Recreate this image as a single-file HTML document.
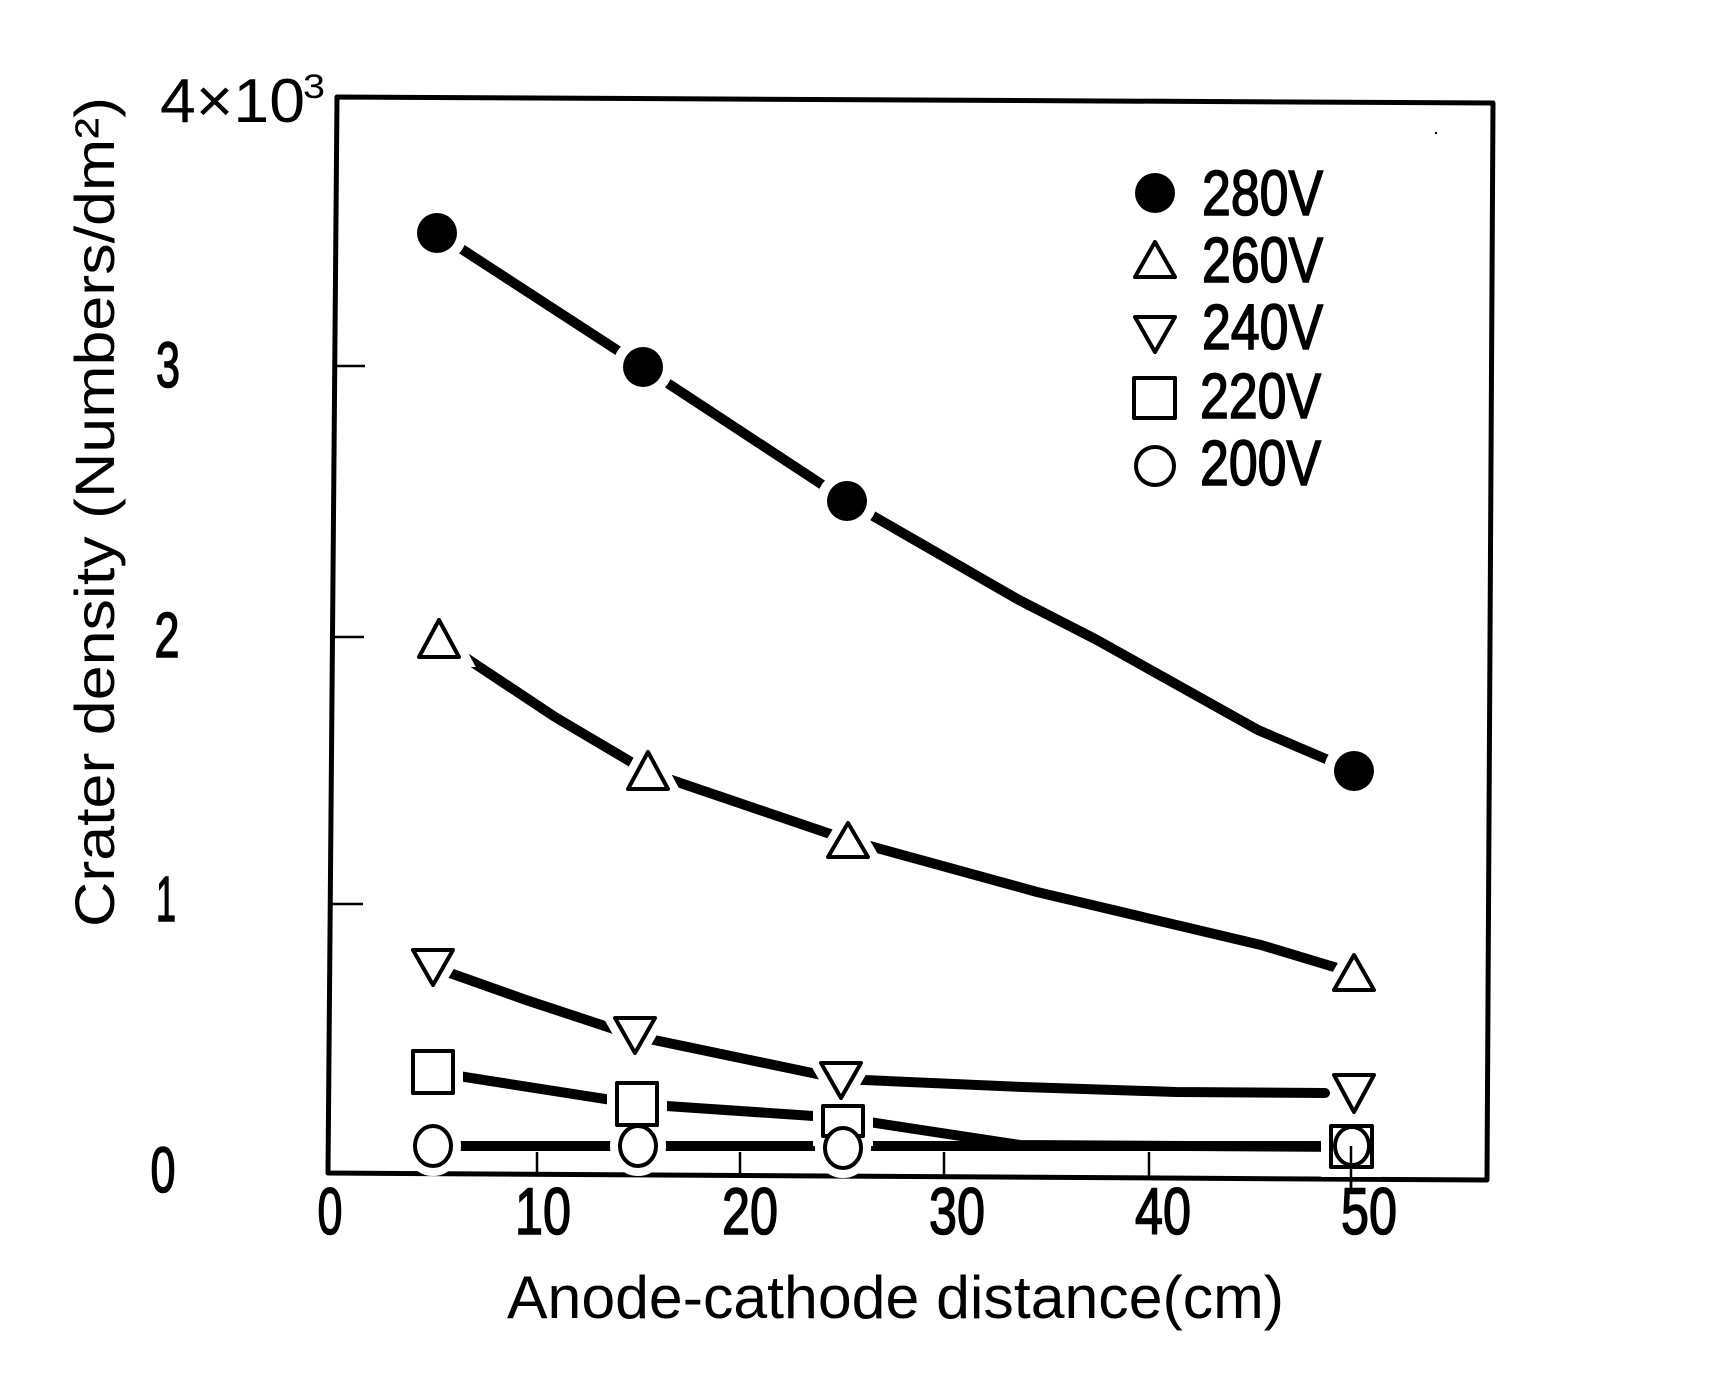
<!DOCTYPE html>
<html><head><meta charset="utf-8"><style>
html,body{margin:0;padding:0;background:#fff;}
svg{display:block;}
text{font-family:"Liberation Sans",sans-serif;fill:#000;}
.med{stroke:#000;stroke-width:1.6px;}
</style></head><body>
<svg width="1728" height="1374" viewBox="0 0 1728 1374" xmlns="http://www.w3.org/2000/svg">
<rect width="1728" height="1374" fill="#fff"/>
<path d="M337,97 L1493,103 L1487,1180 L328,1173 Z" fill="none" stroke="#000" stroke-width="5" stroke-linejoin="round"/>
<g stroke="#000" stroke-width="2.5">
<line x1="333" y1="366" x2="365" y2="366"/>
<line x1="332" y1="637" x2="364" y2="637"/>
<line x1="331" y1="904" x2="363" y2="904"/>
<line x1="537" y1="1152" x2="537" y2="1175"/>
<line x1="740" y1="1152" x2="740" y2="1175"/>
<line x1="944" y1="1152" x2="944" y2="1176"/>
<line x1="1149" y1="1152" x2="1149" y2="1177"/>
<line x1="1351" y1="1150" x2="1351" y2="1188"/>
</g>
<g font-size="64" text-anchor="middle" class="med">
<text x="168" y="387" textLength="24" lengthAdjust="spacingAndGlyphs">3</text>
<text x="167" y="657" textLength="25" lengthAdjust="spacingAndGlyphs">2</text>
<text x="166" y="921" textLength="20" lengthAdjust="spacingAndGlyphs">1</text>
<text x="163" y="1192" textLength="25" lengthAdjust="spacingAndGlyphs">0</text>
</g>
<text x="160" y="122" font-size="62" textLength="145" lengthAdjust="spacingAndGlyphs">4×10</text>
<text x="303" y="98" font-size="34" textLength="22" lengthAdjust="spacingAndGlyphs">3</text>
<g font-size="66" text-anchor="middle" class="med">
<text x="330" y="1234" textLength="25" lengthAdjust="spacingAndGlyphs">0</text>
<text x="543" y="1234" textLength="56" lengthAdjust="spacingAndGlyphs">10</text>
<text x="750" y="1234" textLength="56" lengthAdjust="spacingAndGlyphs">20</text>
<text x="957" y="1234" textLength="56" lengthAdjust="spacingAndGlyphs">30</text>
<text x="1163" y="1234" textLength="56" lengthAdjust="spacingAndGlyphs">40</text>
<text x="1369" y="1234" textLength="56" lengthAdjust="spacingAndGlyphs">50</text>
</g>
<text x="507" y="1318" font-size="60" textLength="777" lengthAdjust="spacingAndGlyphs">Anode-cathode distance(cm)</text>
<text transform="translate(114,927) rotate(-90)" font-size="56" textLength="830" lengthAdjust="spacingAndGlyphs">Crater density (Numbers/dm²)</text>

<g fill="none" stroke="#000" stroke-width="10" stroke-linecap="round" stroke-linejoin="round">
<polyline points="437,233 643,367 847,501 1019,600 1097,640 1258,730 1354,771"/>
<polyline points="439,640 555,717 648,772 848,840 1037,892 1261,945 1354,973"/>
<polyline points="433,967 526,1000 635,1036 841,1079 1023,1087 1176,1092 1325,1093"/>
<polyline points="433,1072 637,1104 843,1118 1020,1145 1351,1147"/>
<polyline points="433,1146 1351,1146"/>
</g>

<g fill="#fff" stroke="#fff" stroke-width="20">
<circle cx="437" cy="233" r="20"/><circle cx="643" cy="367" r="20"/><circle cx="847" cy="501" r="20"/><circle cx="1354" cy="771" r="20"/>
<path d="M439,620 L459,657 L419,657 Z"/><path d="M648,752 L668,789 L628,789 Z"/><path d="M848,823 L868,857 L828,857 Z"/><path d="M1354,955 L1374,990 L1334,990 Z"/>
<path d="M413,950 L453,950 L433,985 Z"/><path d="M615,1018 L655,1018 L635,1053 Z"/><path d="M821,1063 L861,1063 L841,1098 Z"/><path d="M1334,1075 L1374,1075 L1354,1112 Z"/>
<rect x="413" y="1051" width="40" height="42"/><rect x="617" y="1083" width="40" height="42"/><rect x="823" y="1106" width="40" height="30"/><rect x="1331" y="1126" width="41" height="41"/>
<ellipse cx="433" cy="1146" rx="18" ry="20"/><ellipse cx="638" cy="1146" rx="18" ry="20"/><ellipse cx="843" cy="1148" rx="18" ry="20"/>
</g>
<g fill="#000">
<circle cx="437" cy="233" r="20"/><circle cx="643" cy="367" r="20"/><circle cx="847" cy="501" r="20"/><circle cx="1354" cy="771" r="20"/>
</g>
<g fill="#fff" stroke="#000" stroke-width="4" stroke-linejoin="round">
<path d="M439,620 L459,657 L419,657 Z"/><path d="M648,752 L668,789 L628,789 Z"/><path d="M848,823 L868,857 L828,857 Z"/><path d="M1354,955 L1374,990 L1334,990 Z"/>
<path d="M413,950 L453,950 L433,985 Z"/><path d="M615,1018 L655,1018 L635,1053 Z"/><path d="M821,1063 L861,1063 L841,1098 Z"/><path d="M1334,1075 L1374,1075 L1354,1112 Z"/>
<rect x="413" y="1051" width="40" height="42"/><rect x="617" y="1083" width="40" height="42"/><rect x="823" y="1106" width="40" height="30"/><rect x="1331" y="1126" width="41" height="41"/>
<ellipse cx="433" cy="1146" rx="18" ry="20"/><ellipse cx="638" cy="1146" rx="18" ry="20"/><ellipse cx="843" cy="1148" rx="18" ry="20"/><ellipse cx="1352" cy="1146" rx="17" ry="19"/>
</g>
<line x1="1351" y1="1146" x2="1351" y2="1188" stroke="#000" stroke-width="2.5"/>

<circle cx="1155" cy="193" r="20" fill="#000"/>
<g fill="#fff" stroke="#000" stroke-width="4" stroke-linejoin="round">
<path d="M1155,242 L1175,277 L1135,277 Z"/>
<path d="M1135,317 L1175,317 L1155,352 Z"/>
<rect x="1134" y="378" width="41" height="40"/>
<circle cx="1155" cy="466" r="19"/>
</g>
<g font-size="64" class="med">
<text x="1202" y="215" textLength="121" lengthAdjust="spacingAndGlyphs">280V</text>
<text x="1202" y="282" textLength="121" lengthAdjust="spacingAndGlyphs">260V</text>
<text x="1202" y="349" textLength="121" lengthAdjust="spacingAndGlyphs">240V</text>
<text x="1200" y="418" textLength="121" lengthAdjust="spacingAndGlyphs">220V</text>
<text x="1200" y="485" textLength="121" lengthAdjust="spacingAndGlyphs">200V</text>
</g>
<rect x="1435" y="132" width="2" height="2" fill="#000"/>
</svg>
</body></html>
